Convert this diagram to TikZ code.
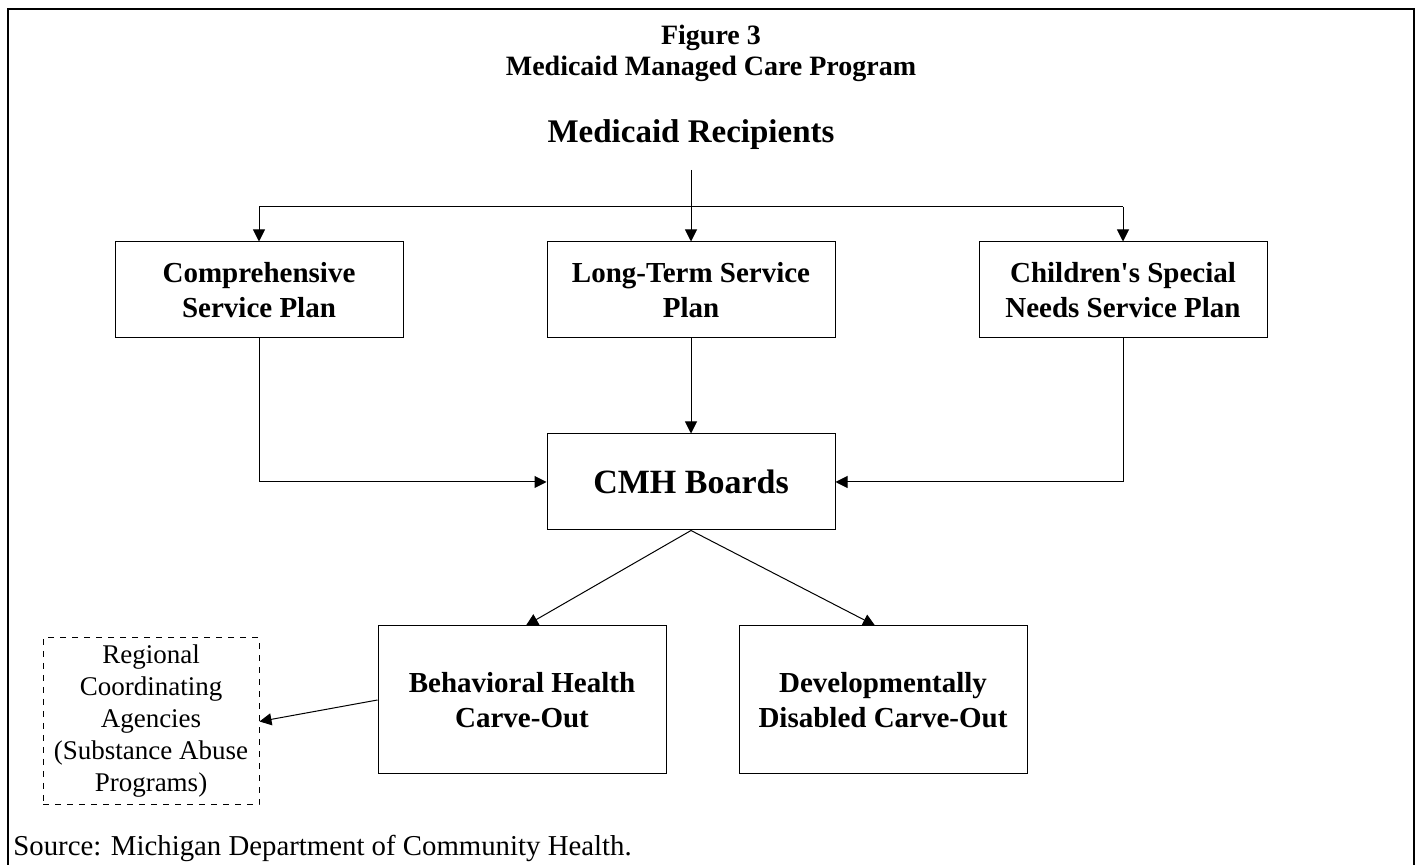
\documentclass[tikz,border=0pt]{standalone}
\usepackage{fontspec}
\setmainfont{Liberation Serif}
\usetikzlibrary{arrows.meta,positioning}

\begin{document}
\begin{tikzpicture}[x=0.5pt,y=-0.5pt,>={Triangle[length=6pt,width=6pt]},
	plan/.style={draw, rectangle, line width=0.5pt, minimum width=144pt, minimum height=48pt, align=center, font=\fontsize{14.5}{17.5}\selectfont\bfseries},
	carve/.style={plan, minimum height=74pt},
	agency/.style={draw, dashed, rectangle, line width=0.5pt, minimum width=108pt, minimum height=83.5pt, align=center, inner sep=1pt, font=\fontsize{13.5}{16}\selectfont},
	link/.style={line width=0.5pt}]
		\useasboundingbox (0,0) rectangle (1421,865);
		
		% frame, open at the bottom
		\draw[line width=1pt] (8,865) |- (1414,9) -- (1414,865);
		
		\node[align=center, font=\fontsize{14}{15.5}\selectfont\bfseries] (title) at (711,53) {Figure 3\\Medicaid Managed Care Program};
		\node[font=\fontsize{16.5}{19}\selectfont\bfseries] (recip) at (691,135) {Medicaid Recipients};
		
		\node[plan] (comp) at (259,290) {Comprehensive\\Service Plan};
		\node[plan] (long) at (691,290) {Long-Term Service\\Plan};
		\node[plan] (child) at (1123,290) {Children\textquotesingle s Special\\Needs Service Plan};
		
		\node[plan, font=\fontsize{17}{19}\selectfont\bfseries] (cmh) at (691,482) {CMH Boards};
		
		\node[carve] (behav) at (522,700) {Behavioral Health\\Carve-Out};
		\node[carve] (devel) at (883,700) {Developmentally\\Disabled Carve-Out};
		
		\node[agency] (rca) at (151,721.5) {Regional\\Coordinating\\Agencies\\(Substance Abuse\\Programs)};
		
		\node[anchor=base west, inner sep=0pt, font=\fontsize{14.4}{16}\selectfont] (source) at (13,856) {Source: Michigan Department of Community Health.};
		
		% Arrows
		\coordinate (top) at (691,170);
		\coordinate (split) at (691,207);
		\draw[link,->] (top) -- (long.north);
		\draw[link] (split -| comp.north) -- (split -| child.north);
		\draw[link,->] (split -| comp.north) -- (comp.north);
		\draw[link,->] (split -| child.north) -- (child.north);
		
		\draw[link,->] (comp.south) |- (cmh.west);
		\draw[link,->] (long.south) -- (cmh.north);
		\draw[link,->] (child.south) |- (cmh.east);
		
		\draw[link,->] (cmh.south) -- ([xshift=2pt]behav.north);
		\draw[link,->] (cmh.south) -- ([xshift=-4pt]devel.north);
		\draw[link,->] (behav.west) -- (rca.east);
		
\end{tikzpicture}
\end{document}
